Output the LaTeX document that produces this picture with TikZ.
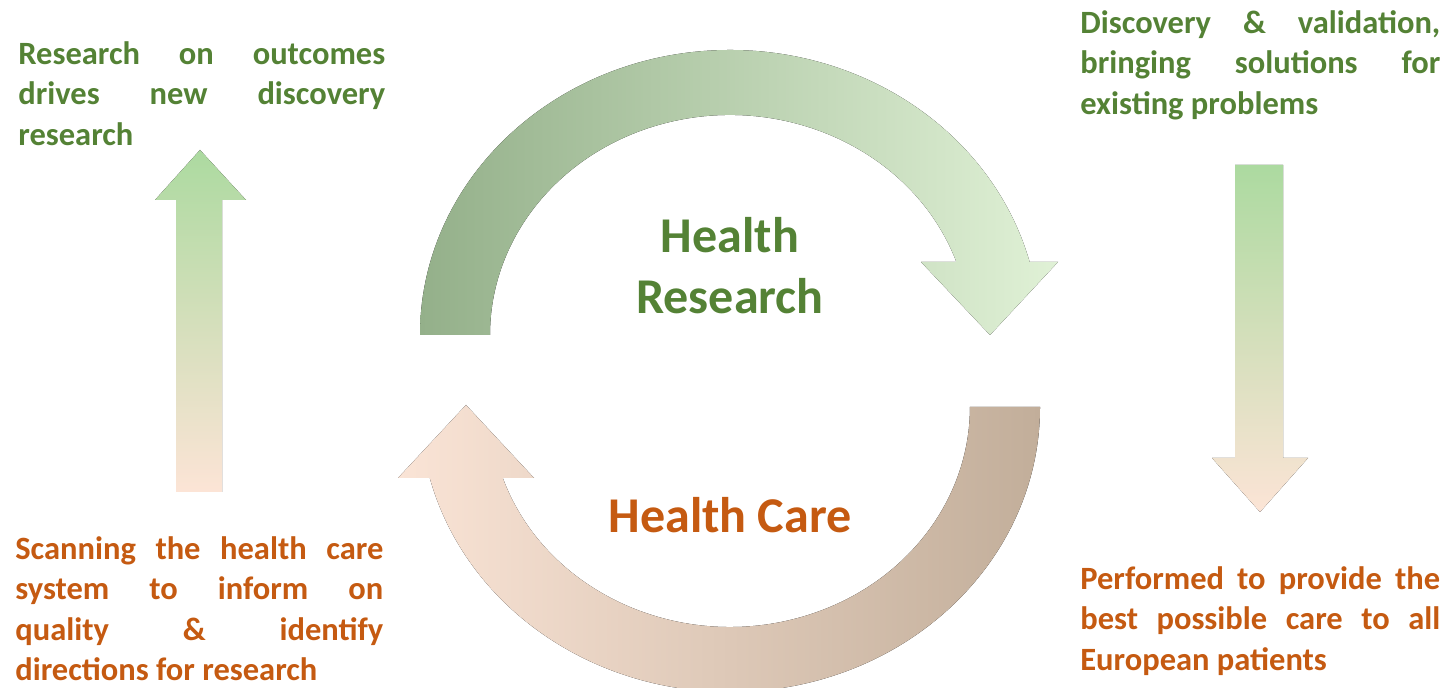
\documentclass[tikz,border=0pt]{standalone}
\usepackage{fontspec}
\setmainfont{Carlito}
\usetikzlibrary{calc}
\definecolor{verdetexto}{RGB}{84,130,53}
\definecolor{laranjatexto}{RGB}{197,90,17}
\definecolor{verdeescuro}{RGB}{148,176,138}
\definecolor{verdeclaro}{RGB}{224,241,214}
\definecolor{bege}{RGB}{194,174,154}
\definecolor{pessego}{RGB}{250,228,214}
\definecolor{verdeseta}{RGB}{172,218,160}
\definecolor{pessegoseta}{RGB}{252,228,214}
\tikzset{
texto/.style = {anchor=north west, inner sep=0pt, align=left,
    font=\fontsize{18.5}{23}\selectfont\bfseries}
        }
\tikzset{
titulo/.style = {inner sep=0pt, align=center,
    font=\fontsize{28.5}{35}\selectfont\bfseries}
        }
\tikzset{
seta/.style = {top color=verdeseta, bottom color=pessegoseta, draw=none}
         }
\newcommand{\linha}[2]{\makebox[#1][s]{\strut #2}}

\begin{document}
\begin{tikzpicture}[x=0.02cm,y=0.02cm]
        \useasboundingbox[fill=white] (0,0) rectangle (1447,688);

        % ciclo: pesquisa (em cima) e cuidado (em baixo)
        \coordinate (P) at (730,353);
        \coordinate (Q) at (730,281);

        \fill[left color=verdeescuro, right color=verdeclaro]
            ($(P)+(-310,0)$) arc[start angle=180, end angle=14.84, x radius=310, y radius=285]
            -- (1058,426) -- (990,353) -- (921,426) -- (956.4,426)
            arc[start angle=19.38, end angle=180, x radius=240, y radius=220] -- cycle;

        \fill[left color=pessego, right color=bege]
            ($(Q)+(310,0)$) arc[start angle=0, end angle=-165.6, x radius=310, y radius=285]
            -- (398,210) -- (466,283) -- (534,210) -- (502.8,210)
            arc[start angle=-161.17, end angle=0, x radius=240, y radius=220] -- cycle;

        \node[titulo, anchor=north, text=verdetexto] (pesquisa) at (730,479)
            {\strut Health\\\strut Research};
        \node[titulo, anchor=base, text=laranjatexto] (cuidado) at (730,155) {Health Care};

        % setas retas
        \fill[seta] (176,196) -- (176,488) -- (155,488) -- (200,538) -- (246,488)
            -- (222,488) -- (222,196) -- cycle;
        \fill[seta] (1235,523) -- (1235,230) -- (1212,230) -- (1260,176) -- (1308,230)
            -- (1283,230) -- (1283,523) -- cycle;

        % textos laterais
        \node[texto, text=verdetexto] (resultados) at (18,652.3)
            {\linha{7.34cm}{Research on outcomes}\\
             \linha{7.34cm}{drives new discovery}\\
             \strut research};
        \node[texto, text=verdetexto] (descoberta) at (1080,683.3)
            {\linha{7.2cm}{Discovery \& validation,}\\
             \linha{7.2cm}{bringing solutions for}\\
             \strut existing problems};
        \node[texto, text=laranjatexto] (sistema) at (15,157.3)
            {\linha{7.36cm}{Scanning the health care}\\
             \linha{7.36cm}{system to inform on}\\
             \linha{7.36cm}{quality \& identify}\\
             \strut directions for research};
        \node[texto, text=laranjatexto] (pacientes) at (1080,127.3)
            {\linha{7.2cm}{Performed to provide the}\\
             \linha{7.2cm}{best possible care to all}\\
             \strut European patients};
    \end{tikzpicture}
\end{document}
